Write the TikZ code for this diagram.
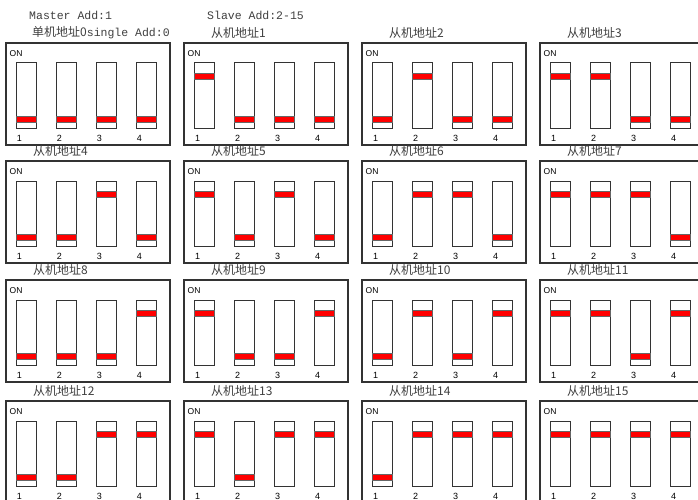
\documentclass[tikz,border=0pt]{standalone}
\usepackage{fontspec}
\setmainfont{Liberation Sans}
\newfontfamily\cjk{Noto Sans CJK SC}
\newfontfamily\mono{Liberation Mono}
\begin{document}
\begin{tikzpicture}[x=1pt,y=-1pt,
  boxframe/.style={draw=black!80,line width=1.1pt},
  swframe/.style={draw=black!80,line width=1pt,fill=white},
  redband/.style={draw=black!60,line width=0.7pt,fill=red},
  onlabel/.style={font=\fontsize{8.5}{9}\selectfont,inner sep=0pt,anchor=west},
  numlabel/.style={font=\fontsize{9}{10}\selectfont,inner sep=0pt},
  title/.style={font=\fontsize{12}{13}\selectfont,text=black!75,inner sep=0pt,anchor=west},
  header/.style={font=\mono\fontsize{11.5}{12}\selectfont,text=black!75,inner sep=0pt,anchor=west}]
\useasboundingbox (0,0) rectangle (698,500);
\clip (0,0) rectangle (698,500);
\fill[white] (0,0) rectangle (698,500);
\node[header] (master) at (29,15) {Master Add:1};
\node[header] (slave) at (207,15) {Slave Add:2-15};
\foreach \n in {0,...,15}{
  \pgfmathtruncatemacro\c{mod(\n,4)}
  \pgfmathtruncatemacro\r{div(\n,4)}
  \pgfmathsetmacro\L{6+178*\c}
  \pgfmathsetmacro\T{{43,161,280,401}[\r]}
  \draw[boxframe] (\L,\T) rectangle ++(164,102);
  \node[onlabel] (on\n) at (\L+3.5,\T+11) {ON};
  \ifnum\n=0
    \node[title] (title\n) at (\L+26,\T-10.5) {{\cjk 单机地址0}{\mono\fontsize{11.5}{12}\selectfont single Add:0}};
  \else
    \node[title] (title\n) at (\L+27,\T-10) {\cjk 从机地址\n};
  \fi
  \foreach \k in {0,...,3}{
    \pgfmathtruncatemacro\b{mod(div(\n,pow(2,\k)),2)}
    \pgfmathsetmacro\X{\L+10+40*\k}
    \draw[swframe] (\X,\T+20) rectangle ++(20,65);
    \ifnum\b=1
      \draw[redband] (\X,\T+30) rectangle ++(20,6);
    \else
      \draw[redband] (\X,\T+73.5) rectangle ++(20,6);
    \fi
    \pgfmathtruncatemacro\kk{\k+1}
    \node[numlabel] (num\n-\kk) at (\X+3.5,\T+95) {\kk};
  }
}
\end{tikzpicture}
\end{document}
